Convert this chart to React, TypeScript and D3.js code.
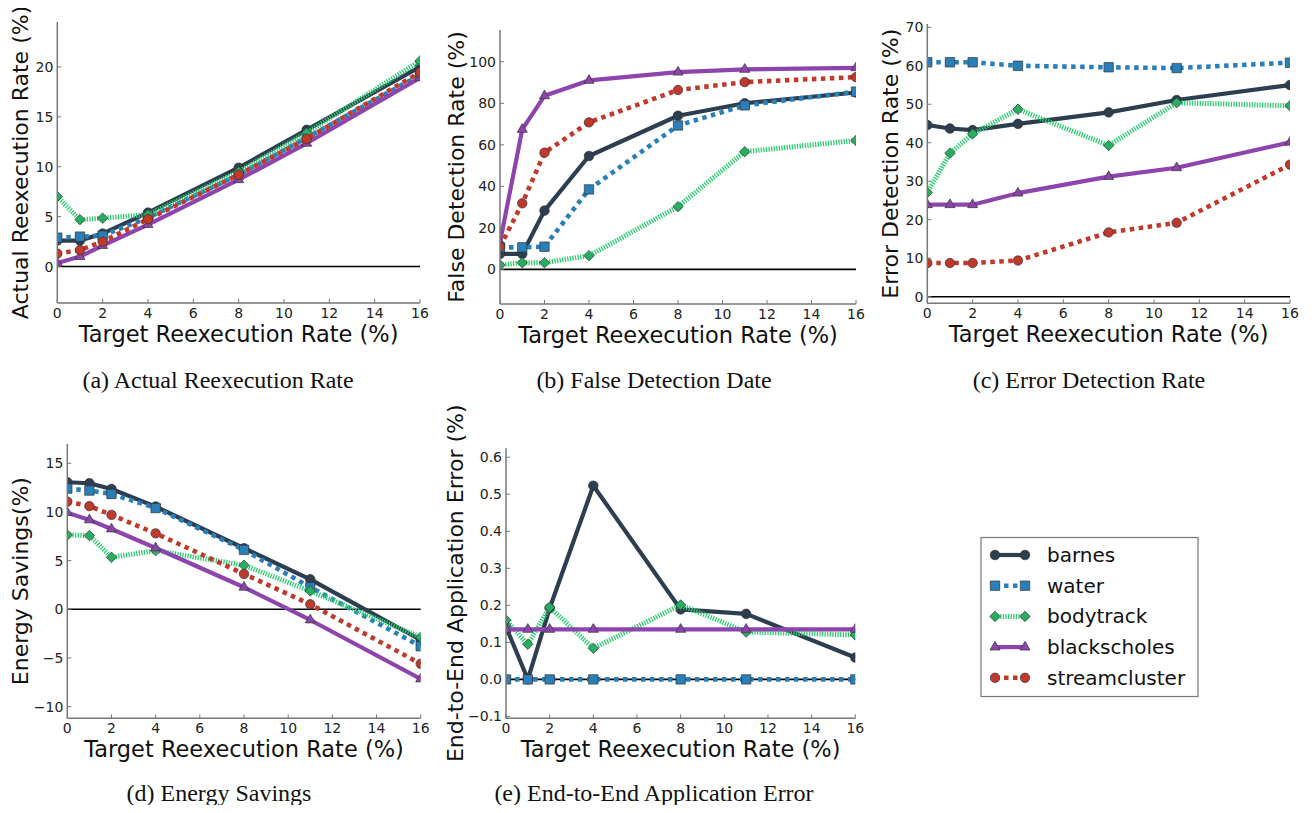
import React, { useRef, useEffect } from "react";
import * as d3 from "d3";

const width = 1315;
const height = 813;

// target reexecution rates (x values shared by all panels)
const targetRates = [0, 1, 2, 4, 8, 11, 16];
const xTicks = [0, 2, 4, 6, 8, 10, 12, 14, 16];

const seriesNames = ["barnes", "water", "bodytrack", "blackscholes", "streamcluster"];

// (a) actual reexecution rate
const actualBarnes = [2.6, 2.6, 3.3, 5.4, 9.9, 13.7, 20.0];
const actualWater = [2.9, 3.0, 3.1, 4.9, 9.2, 12.9, 19.2];
const actualBodytrack = [7.0, 4.7, 4.85, 5.2, 9.5, 13.4, 20.6];
const actualBlackscholes = [0.35, 1.0, 2.1, 4.2, 8.7, 12.35, 18.9];
const actualStreamcluster = [1.3, 1.65, 2.5, 4.75, 9.2, 12.8, 19.45];
const actualTicks = [0, 5, 10, 15, 20];

// (b) false detection rate
const falseBarnes = [7.4, 7.4, 28.3, 54.6, 74.0, 80.0, 85.2];
const falseWater = [10.6, 10.6, 10.9, 38.5, 69.3, 79.0, 85.6];
const falseBodytrack = [2.1, 3.2, 3.2, 6.6, 30.2, 56.7, 62.1];
const falseBlackscholes = [13.0, 67.4, 83.6, 91.0, 95.0, 96.3, 97.1];
const falseStreamcluster = [10.9, 31.8, 56.2, 70.8, 86.4, 90.2, 92.6];
const falseTicks = [0, 20, 40, 60, 80, 100];

// (c) error detection rate
const errorBarnes = [44.6, 43.7, 43.3, 44.9, 47.9, 51.1, 55.0];
const errorWater = [60.9, 60.9, 60.9, 60.0, 59.6, 59.4, 60.8];
const errorBodytrack = [27.1, 37.3, 42.3, 48.7, 39.3, 50.4, 49.6];
const errorBlackscholes = [23.9, 23.9, 23.9, 26.9, 31.2, 33.5, 40.1];
const errorStreamcluster = [8.75, 8.75, 8.75, 9.4, 16.7, 19.2, 34.3];
const errorTicks = [0, 10, 20, 30, 40, 50, 60, 70];

// (d) energy savings
const energyBarnes = [13.05, 12.95, 12.36, 10.55, 6.27, 3.08, -3.15];
const energyWater = [12.4, 12.2, 11.85, 10.4, 6.1, 2.26, -3.8];
const energyBodytrack = [7.64, 7.57, 5.34, 6.03, 4.52, 1.88, -2.88];
const energyBlackscholes = [9.93, 9.18, 8.25, 6.3, 2.26, -1.1, -7.16];
const energyStreamcluster = [11.06, 10.6, 9.7, 7.8, 3.63, 0.51, -5.6];
const energyTicks = [-10, -5, 0, 5, 10, 15];

// (e) end-to-end application error
const endBarnes = [0.142, 0.0, 0.192, 0.523, 0.189, 0.177, 0.059];
const endWater = [0, 0, 0, 0, 0, 0, 0];
const endBodytrack = [0.16, 0.095, 0.195, 0.084, 0.201, 0.128, 0.12];
const endBlackscholes = [0.135, 0.135, 0.135, 0.135, 0.135, 0.135, 0.135];
const endTicks = [-0.1, 0.0, 0.1, 0.2, 0.3, 0.4, 0.5, 0.6];

const styles = {
  barnes: { line: "#2c3e50", fill: "#2c3e50", width: 4.2, dash: null, symbol: d3.symbolCircle, size: 72 },
  water: { line: "#2980b9", fill: "#2980b9", width: 4.6, dash: "4.5,4.5", symbol: d3.symbolSquare, size: 88 },
  bodytrack: { line: "#2ecc71", fill: "#27ae60", width: 5, dash: "1.3,1.3", symbol: d3.symbolDiamond2, size: 70 },
  blackscholes: { line: "#8e44ad", fill: "#8e44ad", width: 4.2, dash: null, symbol: d3.symbolTriangle, size: 44 },
  streamcluster: { line: "#c0392b", fill: "#c0392b", width: 4.6, dash: "4.5,4.5", symbol: d3.symbolCircle, size: 70 },
};

const panels = [
  {
    id: "a", left: 57.3, right: 420, top: 22, bottom: 303, yDomain: [-3.65, 24.5], yTicks: actualTicks,
    fmt: d3.format("d"), ylabel: "Actual Reexecution Rate (%)", ylabelX: 20,
    caption: "(a) Actual Reexecution Rate", captionX: 218, captionY: 388,
    data: { barnes: actualBarnes, water: actualWater, bodytrack: actualBodytrack, blackscholes: actualBlackscholes, streamcluster: actualStreamcluster },
  },
  {
    id: "b", left: 500, right: 856, top: 30, bottom: 304, yDomain: [-16.7, 115.3], yTicks: falseTicks,
    fmt: d3.format("d"), ylabel: "False Detection Rate (%)", ylabelX: 456,
    caption: "(b) False Detection Date", captionX: 654, captionY: 388,
    data: { barnes: falseBarnes, water: falseWater, bodytrack: falseBodytrack, blackscholes: falseBlackscholes, streamcluster: falseStreamcluster },
  },
  {
    id: "c", left: 927.3, right: 1290, top: 24, bottom: 303.3, yDomain: [-1.71, 70.85], yTicks: errorTicks,
    fmt: d3.format("d"), ylabel: "Error Detection Rate (%)", ylabelX: 890,
    caption: "(c) Error Detection Rate", captionX: 1089, captionY: 388,
    data: { barnes: errorBarnes, water: errorWater, bodytrack: errorBodytrack, blackscholes: errorBlackscholes, streamcluster: errorStreamcluster },
  },
  {
    id: "d", left: 67.3, right: 420.7, top: 444, bottom: 718.3, yDomain: [-11.2, 16.98], yTicks: energyTicks,
    fmt: d3.format("d"), ylabel: "Energy Savings(%)", ylabelX: 20,
    caption: "(d) Energy Savings", captionX: 219, captionY: 801,
    data: { barnes: energyBarnes, water: energyWater, bodytrack: energyBodytrack, blackscholes: energyBlackscholes, streamcluster: energyStreamcluster },
  },
  {
    id: "e", left: 506, right: 855.3, top: 448.3, bottom: 718.3, yDomain: [-0.105, 0.624], yTicks: endTicks,
    fmt: d3.format(".1f"), ylabel: "End-to-End Application Error (%)", ylabelX: 455,
    caption: "(e) End-to-End Application Error", captionX: 654, captionY: 801,
    data: { barnes: endBarnes, water: endWater, bodytrack: endBodytrack, blackscholes: endBlackscholes },
  },
];

const sans = "'DejaVu Sans', sans-serif";
const serif = "'Liberation Serif', 'Times New Roman', serif";

const App = () => {
  const ref = useRef(null);

  useEffect(() => {
    const svg = d3.select(ref.current);
    svg.selectAll("*").remove();
    svg.attr("width", width).attr("height", height);
    svg.append("rect").attr("width", width).attr("height", height).attr("fill", "#fff");

    panels.forEach((p) => {
      const x = d3.scaleLinear().domain([0, 16]).range([p.left, p.right]);
      const y = d3.scaleLinear().domain(p.yDomain).range([p.bottom, p.top]);
      const g = svg.append("g");

      g.append("clipPath").attr("id", "clip-" + p.id)
        .append("rect").attr("x", p.left).attr("y", p.top)
        .attr("width", p.right - p.left).attr("height", p.bottom - p.top);

      // zero line
      g.append("line").attr("x1", p.left).attr("x2", p.right)
        .attr("y1", y(0)).attr("y2", y(0))
        .attr("stroke", "#000").attr("stroke-width", 1.6);

      const plot = g.append("g").attr("clip-path", `url(#clip-${p.id})`);
      seriesNames.forEach((name) => {
        const vals = p.data[name];
        if (!vals) return;
        const st = styles[name];
        const pts = targetRates.map((t, i) => [t, vals[i]]);
        const line = d3.line().x((d) => x(d[0])).y((d) => y(d[1]));
        plot.append("path").datum(pts).attr("d", line)
          .attr("fill", "none").attr("stroke", st.line)
          .attr("stroke-width", st.width)
          .attr("stroke-dasharray", st.dash)
          .attr("stroke-linejoin", "round");
        plot.selectAll(null).data(pts).enter().append("path")
          .attr("d", d3.symbol().type(st.symbol).size(st.size)())
          .attr("transform", (d) => `translate(${x(d[0])},${y(d[1])})`)
          .attr("fill", st.fill).attr("stroke", "#333").attr("stroke-width", 0.7);
      });

      // spines
      g.append("line").attr("x1", p.left).attr("x2", p.left).attr("y1", p.top).attr("y2", p.bottom)
        .attr("stroke", "#777").attr("stroke-width", 1.5);
      g.append("line").attr("x1", p.left).attr("x2", p.right).attr("y1", p.bottom).attr("y2", p.bottom)
        .attr("stroke", "#777").attr("stroke-width", 1.5);

      // ticks
      p.yTicks.forEach((t) => {
        g.append("line").attr("x1", p.left).attr("x2", p.left + 4).attr("y1", y(t)).attr("y2", y(t))
          .attr("stroke", "#777").attr("stroke-width", 1);
        g.append("text").attr("x", p.left - 4).attr("y", y(t)).attr("dy", "0.36em")
          .attr("text-anchor", "end").attr("font-family", sans).attr("font-size", 14)
          .attr("fill", "#222").text(p.fmt(t));
      });
      xTicks.forEach((t) => {
        g.append("line").attr("x1", x(t)).attr("x2", x(t)).attr("y1", p.bottom).attr("y2", p.bottom - 4)
          .attr("stroke", "#777").attr("stroke-width", 1);
        g.append("text").attr("x", x(t)).attr("y", p.bottom + 15)
          .attr("text-anchor", "middle").attr("font-family", sans).attr("font-size", 14)
          .attr("fill", "#222").text(t);
      });

      // axis labels
      g.append("text").attr("x", (p.left + p.right) / 2).attr("y", p.bottom + 39)
        .attr("text-anchor", "middle").attr("font-family", sans).attr("font-size", 22.5)
        .attr("fill", "#111").text("Target Reexecution Rate (%)");
      g.append("text")
        .attr("transform", `translate(${p.ylabelX},${(p.top + p.bottom) / 2}) rotate(-90)`)
        .attr("text-anchor", "middle").attr("dominant-baseline", "central")
        .attr("font-family", sans).attr("font-size", 22).attr("fill", "#111").text(p.ylabel);

      // caption
      g.append("text").attr("x", p.captionX).attr("y", p.captionY)
        .attr("text-anchor", "middle").attr("font-family", serif).attr("font-size", 24)
        .attr("fill", "#111").text(p.caption);
    });

    // legend
    const lg = svg.append("g");
    lg.append("rect").attr("x", 981).attr("y", 537.5).attr("width", 217).attr("height", 159)
      .attr("fill", "#fff").attr("stroke", "#777").attr("stroke-width", 1.2);
    seriesNames.forEach((name, i) => {
      const st = styles[name];
      const cy = 555 + i * 30.7;
      lg.append("line").attr("x1", 995).attr("x2", 1025).attr("y1", cy).attr("y2", cy)
        .attr("stroke", st.line).attr("stroke-width", st.width).attr("stroke-dasharray", st.dash);
      [995, 1025].forEach((mx) => {
        lg.append("path").attr("d", d3.symbol().type(st.symbol).size(st.size)())
          .attr("transform", `translate(${mx},${cy})`)
          .attr("fill", st.fill).attr("stroke", "#333").attr("stroke-width", 0.7);
      });
      lg.append("text").attr("x", 1047).attr("y", cy).attr("dy", "0.35em")
        .attr("font-family", sans).attr("font-size", 20).attr("fill", "#111").text(name);
    });
  }, []);

  return (
    <div id="chart">
      <svg ref={ref} style={{ display: "block", margin: "-8px" }}></svg>
    </div>
  );
};

export default App;
